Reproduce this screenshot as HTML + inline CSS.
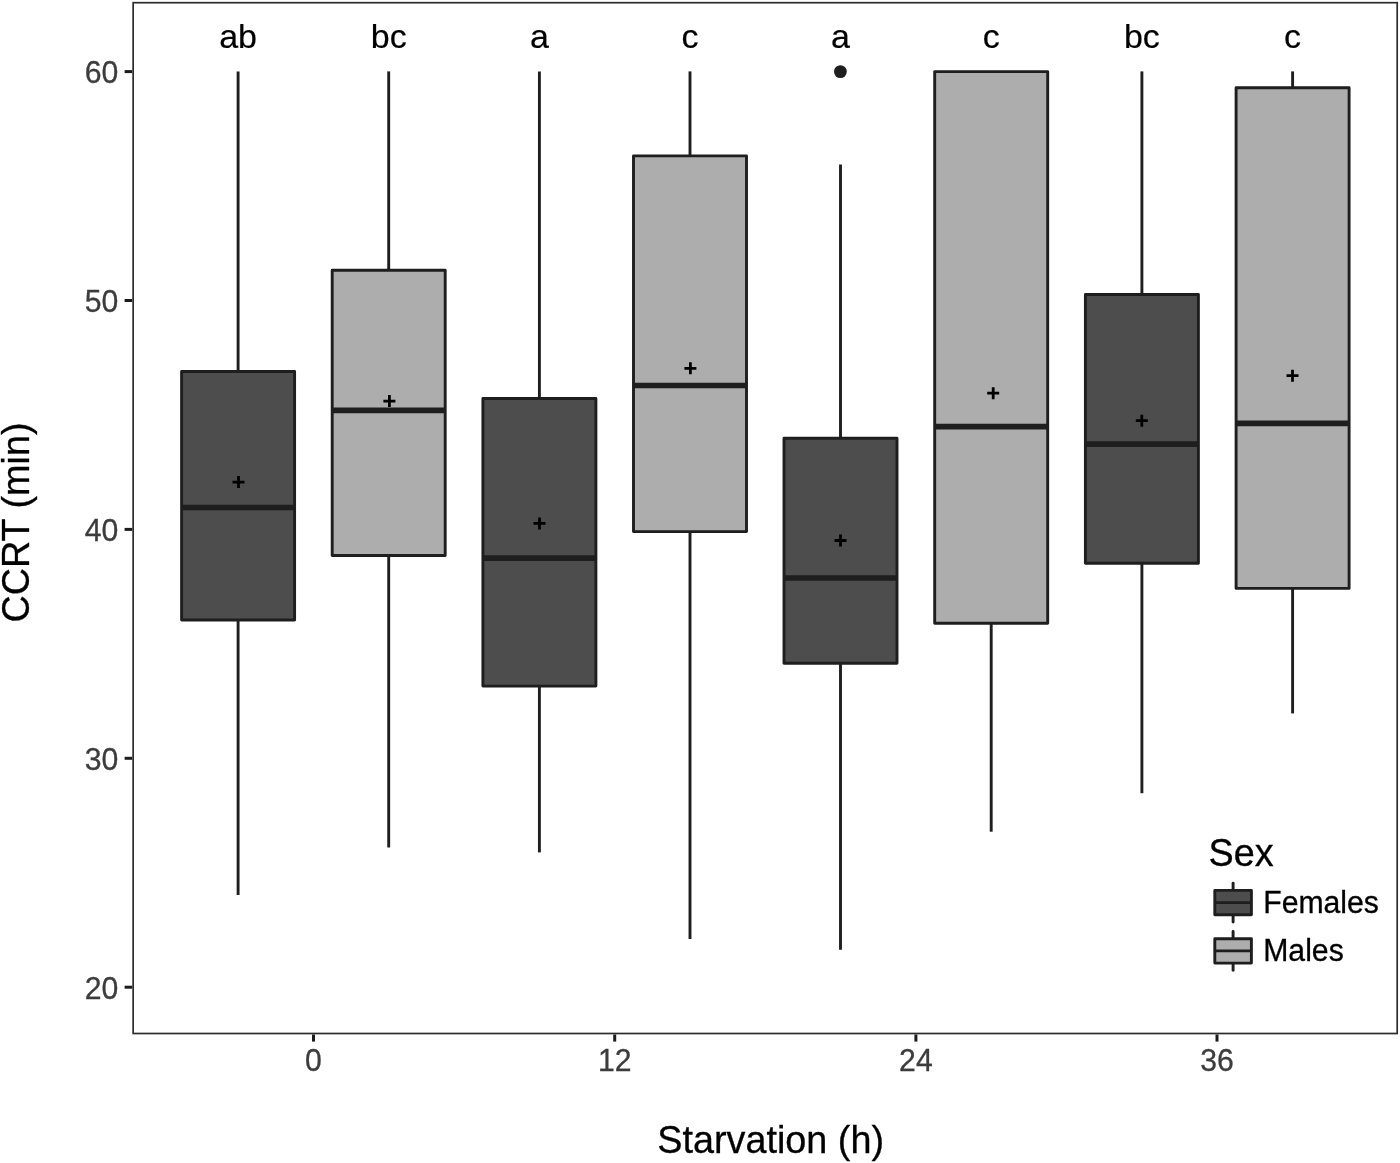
<!DOCTYPE html>
<html><head><meta charset="utf-8"><title>CCRT boxplot</title>
<style>
html,body{margin:0;padding:0;background:#fff;}
body{width:1400px;height:1163px;overflow:hidden;}
svg{display:block;will-change:transform;}
text{font-family:"Liberation Sans",sans-serif;}
.ax{font-size:30.2px;fill:#3c3c3c;stroke:#3c3c3c;stroke-width:0.3px;}
.ttl{font-size:37.8px;fill:#000;stroke:#000;stroke-width:0.3px;}
.lab{font-size:34px;fill:#000;text-anchor:middle;stroke:#000;stroke-width:0.2px;}
.lg{font-size:30.2px;fill:#000;stroke:#000;stroke-width:0.3px;}
</style></head><body>
<svg width="1400" height="1163" viewBox="0 0 1400 1163">
<rect x="0" y="0" width="1400" height="1163" fill="#fff"/>

<line x1="238.1" y1="71.4" x2="238.1" y2="371.5" stroke="#1e1e1e" stroke-width="2.9"/>
<line x1="238.1" y1="620.0" x2="238.1" y2="895.1" stroke="#1e1e1e" stroke-width="2.9"/>
<rect x="181.6" y="371.5" width="113.0" height="248.5" fill="#4d4d4d" stroke="#1e1e1e" stroke-width="2.9" stroke-linejoin="round"/>
<line x1="181.6" y1="507.5" x2="294.6" y2="507.5" stroke="#1e1e1e" stroke-width="5.6"/>
<path d="M232.5 482.1H244.5M238.5 476.1V488.1" stroke="#000" stroke-width="2.8" fill="none"/>
<text class="lab" x="238.1" y="47.9">ab</text>
<line x1="388.7" y1="71.4" x2="388.7" y2="270.3" stroke="#1e1e1e" stroke-width="2.9"/>
<line x1="388.7" y1="555.5" x2="388.7" y2="847.5" stroke="#1e1e1e" stroke-width="2.9"/>
<rect x="332.2" y="270.3" width="113.0" height="285.2" fill="#adadad" stroke="#1e1e1e" stroke-width="2.9" stroke-linejoin="round"/>
<line x1="332.2" y1="410.4" x2="445.2" y2="410.4" stroke="#1e1e1e" stroke-width="5.6"/>
<path d="M383.4 401.1H395.4M389.4 395.1V407.1" stroke="#000" stroke-width="2.8" fill="none"/>
<text class="lab" x="388.7" y="47.9">bc</text>
<line x1="539.4" y1="71.4" x2="539.4" y2="398.5" stroke="#1e1e1e" stroke-width="2.9"/>
<line x1="539.4" y1="686.1" x2="539.4" y2="852.4" stroke="#1e1e1e" stroke-width="2.9"/>
<rect x="482.9" y="398.5" width="113.0" height="287.6" fill="#4d4d4d" stroke="#1e1e1e" stroke-width="2.9" stroke-linejoin="round"/>
<line x1="482.9" y1="558.1" x2="595.9" y2="558.1" stroke="#1e1e1e" stroke-width="5.6"/>
<path d="M533.5 523.4H545.5M539.5 517.4V529.4" stroke="#000" stroke-width="2.8" fill="none"/>
<text class="lab" x="539.4" y="47.9">a</text>
<line x1="690.0" y1="71.4" x2="690.0" y2="155.9" stroke="#1e1e1e" stroke-width="2.9"/>
<line x1="690.0" y1="531.6" x2="690.0" y2="938.9" stroke="#1e1e1e" stroke-width="2.9"/>
<rect x="633.5" y="155.9" width="113.0" height="375.7" fill="#adadad" stroke="#1e1e1e" stroke-width="2.9" stroke-linejoin="round"/>
<line x1="633.5" y1="385.5" x2="746.5" y2="385.5" stroke="#1e1e1e" stroke-width="5.6"/>
<path d="M684.4 368.3H696.4M690.4 362.3V374.3" stroke="#000" stroke-width="2.8" fill="none"/>
<text class="lab" x="690.0" y="47.9">c</text>
<line x1="840.5" y1="164.6" x2="840.5" y2="438.2" stroke="#1e1e1e" stroke-width="2.9"/>
<line x1="840.5" y1="663.3" x2="840.5" y2="949.7" stroke="#1e1e1e" stroke-width="2.9"/>
<rect x="784.0" y="438.2" width="113.0" height="225.1" fill="#4d4d4d" stroke="#1e1e1e" stroke-width="2.9" stroke-linejoin="round"/>
<line x1="784.0" y1="578.0" x2="897.0" y2="578.0" stroke="#1e1e1e" stroke-width="5.6"/>
<path d="M834.5 540.5H846.5M840.5 534.5V546.5" stroke="#000" stroke-width="2.8" fill="none"/>
<text class="lab" x="840.5" y="47.9">a</text>
<line x1="991.2" y1="623.3" x2="991.2" y2="831.7" stroke="#1e1e1e" stroke-width="2.9"/>
<rect x="934.7" y="71.6" width="113.0" height="551.7" fill="#adadad" stroke="#1e1e1e" stroke-width="2.9" stroke-linejoin="round"/>
<line x1="934.7" y1="426.6" x2="1047.7" y2="426.6" stroke="#1e1e1e" stroke-width="5.6"/>
<path d="M987.2 393.2H999.2M993.2 387.2V399.2" stroke="#000" stroke-width="2.8" fill="none"/>
<text class="lab" x="991.2" y="47.9">c</text>
<line x1="1141.9" y1="71.4" x2="1141.9" y2="294.5" stroke="#1e1e1e" stroke-width="2.9"/>
<line x1="1141.9" y1="563.2" x2="1141.9" y2="793.2" stroke="#1e1e1e" stroke-width="2.9"/>
<rect x="1085.4" y="294.5" width="113.0" height="268.7" fill="#4d4d4d" stroke="#1e1e1e" stroke-width="2.9" stroke-linejoin="round"/>
<line x1="1085.4" y1="444.1" x2="1198.4" y2="444.1" stroke="#1e1e1e" stroke-width="5.6"/>
<path d="M1135.8 420.7H1147.8M1141.8 414.7V426.7" stroke="#000" stroke-width="2.8" fill="none"/>
<text class="lab" x="1141.9" y="47.9">bc</text>
<line x1="1292.6" y1="71.4" x2="1292.6" y2="87.7" stroke="#1e1e1e" stroke-width="2.9"/>
<line x1="1292.6" y1="588.4" x2="1292.6" y2="713.4" stroke="#1e1e1e" stroke-width="2.9"/>
<rect x="1236.1" y="87.7" width="113.0" height="500.7" fill="#adadad" stroke="#1e1e1e" stroke-width="2.9" stroke-linejoin="round"/>
<line x1="1236.1" y1="423.4" x2="1349.1" y2="423.4" stroke="#1e1e1e" stroke-width="5.6"/>
<path d="M1286.5 375.7H1298.5M1292.5 369.7V381.7" stroke="#000" stroke-width="2.8" fill="none"/>
<text class="lab" x="1292.6" y="47.9">c</text>
<circle cx="840.4" cy="71.6" r="6.4" fill="#1e1e1e"/>
<rect x="133.15" y="2.7" width="1264.05" height="1030.8" fill="none" stroke="#2c2c2c" stroke-width="1.7"/>
<line x1="124.6" y1="71.6" x2="132.2" y2="71.6" stroke="#1c1c1c" stroke-width="3"/>
<text class="ax" transform="translate(118.4,83.0) scale(1,1.015)" text-anchor="end">60</text>
<line x1="124.6" y1="300.5" x2="132.2" y2="300.5" stroke="#1c1c1c" stroke-width="3"/>
<text class="ax" transform="translate(118.4,311.9) scale(1,1.015)" text-anchor="end">50</text>
<line x1="124.6" y1="529.4" x2="132.2" y2="529.4" stroke="#1c1c1c" stroke-width="3"/>
<text class="ax" transform="translate(118.4,540.8) scale(1,1.015)" text-anchor="end">40</text>
<line x1="124.6" y1="758.3" x2="132.2" y2="758.3" stroke="#1c1c1c" stroke-width="3"/>
<text class="ax" transform="translate(118.4,769.7) scale(1,1.015)" text-anchor="end">30</text>
<line x1="124.6" y1="987.2" x2="132.2" y2="987.2" stroke="#1c1c1c" stroke-width="3"/>
<text class="ax" transform="translate(118.4,998.6) scale(1,1.015)" text-anchor="end">20</text>
<line x1="313.5" y1="1034.5" x2="313.5" y2="1041.6" stroke="#1c1c1c" stroke-width="3"/>
<text class="ax" transform="translate(313.5,1070.6) scale(1,1.015)" text-anchor="middle">0</text>
<line x1="614.7" y1="1034.5" x2="614.7" y2="1041.6" stroke="#1c1c1c" stroke-width="3"/>
<text class="ax" transform="translate(614.7,1070.6) scale(1,1.015)" text-anchor="middle">12</text>
<line x1="915.9" y1="1034.5" x2="915.9" y2="1041.6" stroke="#1c1c1c" stroke-width="3"/>
<text class="ax" transform="translate(915.9,1070.6) scale(1,1.015)" text-anchor="middle">24</text>
<line x1="1217.0" y1="1034.5" x2="1217.0" y2="1041.6" stroke="#1c1c1c" stroke-width="3"/>
<text class="ax" transform="translate(1217.0,1070.6) scale(1,1.015)" text-anchor="middle">36</text>
<text class="ttl" transform="translate(770.6,1153.2) scale(1,1.035)" text-anchor="middle">Starvation (h)</text>
<text class="ttl" transform="translate(28.9,522.5) rotate(-90) scale(1,1.035)" text-anchor="middle">CCRT (min)</text>
<text class="ttl" transform="translate(1208.5,866.2) scale(1,1.035)">Sex</text>
<line x1="1233.1" y1="883.2" x2="1233.1" y2="922.0" stroke="#1e1e1e" stroke-width="2.9" stroke-linecap="round"/>
<rect x="1214.8" y="890.4" width="36.6" height="24.4" fill="#4d4d4d" stroke="#1e1e1e" stroke-width="2.9" stroke-linejoin="round"/>
<line x1="1214.8" y1="902.6" x2="1251.4" y2="902.6" stroke="#1e1e1e" stroke-width="2.9"/>
<text class="lg" transform="translate(1263.2,913.1) scale(1,1.035)">Females</text>
<line x1="1233.1" y1="931.5" x2="1233.1" y2="970.3" stroke="#1e1e1e" stroke-width="2.9" stroke-linecap="round"/>
<rect x="1214.8" y="938.7" width="36.6" height="24.4" fill="#adadad" stroke="#1e1e1e" stroke-width="2.9" stroke-linejoin="round"/>
<line x1="1214.8" y1="950.9" x2="1251.4" y2="950.9" stroke="#1e1e1e" stroke-width="2.9"/>
<text class="lg" transform="translate(1263.2,961.4) scale(1,1.035)">Males</text>
</svg></body></html>
